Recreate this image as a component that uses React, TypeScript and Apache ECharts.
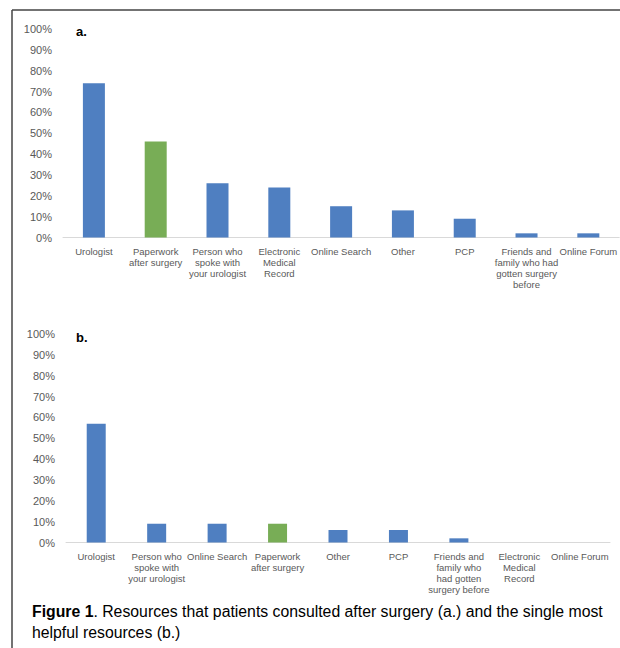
import React, { useEffect, useRef } from "react";
import * as echarts from "echarts";

const categoriesA = [
  "Urologist",
  "Paperwork\nafter surgery",
  "Person who\nspoke with\nyour urologist",
  "Electronic\nMedical\nRecord",
  "Online Search",
  "Other",
  "PCP",
  "Friends and\nfamily who had\ngotten surgery\nbefore",
  "Online Forum",
];
const valuesA = [74, 46, 26, 24, 15, 13, 9, 2, 2];

const categoriesB = [
  "Urologist",
  "Person who\nspoke with\nyour urologist",
  "Online Search",
  "Paperwork\nafter surgery",
  "Other",
  "PCP",
  "Friends and\nfamily who\nhad gotten\nsurgery before",
  "Electronic\nMedical\nRecord",
  "Online Forum",
];
const valuesB = [57, 9, 9, 9, 6, 6, 2, 0, 0];

const highlighted = "Paperwork\nafter surgery";

const BLUE = "#4f7fc1";
const GREEN = "#78ad56";
const FONT = "Liberation Sans, Arial, sans-serif";

function toData(cats: string[], vals: number[]) {
  return vals.map((v, i) => ({
    value: v,
    itemStyle: { color: cats[i] === highlighted ? GREEN : BLUE },
  }));
}

export default function App() {
  const ref = useRef<HTMLDivElement>(null);
  useEffect(() => {
    if (!ref.current) return;
    const chart = echarts.init(ref.current, undefined, { renderer: "svg" });
    const yAxisCommon = {
      type: "value" as const,
      min: 0,
      max: 100,
      interval: 10,
      splitLine: { show: false },
      axisLine: { show: false },
      axisTick: { show: false },
      axisLabel: {
        formatter: "{value}%",
        color: "#595959",
        fontSize: 11,
        fontFamily: FONT,
        margin: 11,
      },
    };
    const xAxisCommon = {
      type: "category" as const,
      axisTick: { show: false },
      axisLine: { lineStyle: { color: "#d9d9d9", width: 1 } },
      axisLabel: {
        color: "#595959",
        fontSize: 9.5,
        fontFamily: FONT,
        interval: 0,
        margin: 8,
        lineHeight: 11,
      },
    };
    chart.setOption({
      animation: false,
      backgroundColor: "#ffffff",
      grid: [
        { left: 63, top: 29, width: 558, height: 208.5 },
        { left: 66, top: 334, width: 544, height: 208.5 },
      ],
      xAxis: [
        { ...xAxisCommon, gridIndex: 0, data: categoriesA },
        { ...xAxisCommon, gridIndex: 1, data: categoriesB },
      ],
      yAxis: [
        { ...yAxisCommon, gridIndex: 0 },
        { ...yAxisCommon, gridIndex: 1 },
      ],
      series: [
        {
          type: "bar",
          xAxisIndex: 0,
          yAxisIndex: 0,
          barWidth: 22,
          data: toData(categoriesA, valuesA),
        },
        {
          type: "bar",
          xAxisIndex: 1,
          yAxisIndex: 1,
          barWidth: 19,
          data: toData(categoriesB, valuesB),
        },
      ],
      graphic: [
        {
          type: "line",
          shape: { x1: 12, y1: 10, x2: 620, y2: 10 },
          style: { stroke: "#444", lineWidth: 1.5 },
        },
        {
          type: "line",
          shape: { x1: 12, y1: 10, x2: 12, y2: 648 },
          style: { stroke: "#444", lineWidth: 1.5 },
        },
        {
          type: "text",
          left: 76,
          top: 25,
          style: { text: "a.", font: "bold 13px " + FONT, fill: "#000" },
        },
        {
          type: "text",
          left: 76,
          top: 331,
          style: { text: "b.", font: "bold 13px " + FONT, fill: "#000" },
        },
        {
          type: "text",
          left: 32,
          top: 603,
          style: {
            text:
              "{b|Figure 1}{n|. Resources that patients consulted after surgery (a.) and the single most}\n{n|helpful resources (b.)}",
            rich: {
              b: { fontWeight: "bold", fontSize: 15.8, fontFamily: FONT, fill: "#000", lineHeight: 21 },
              n: { fontSize: 15.8, fontFamily: FONT, fill: "#000", lineHeight: 21 },
            },
          },
        },
      ],
    });
    return () => chart.dispose();
  }, []);
  return (
    <div
      ref={ref}
      style={{ position: "fixed", left: 0, top: 0, width: 620, height: 648 }}
    />
  );
}
